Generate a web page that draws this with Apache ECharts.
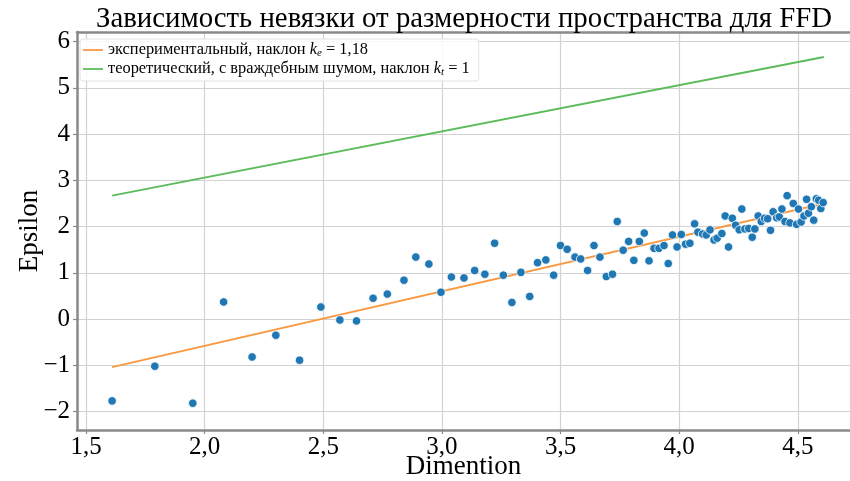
<!DOCTYPE html>
<html>
<head>
<meta charset="utf-8">
<script src="https://cdn.jsdelivr.net/npm/echarts@6/dist/echarts.min.js"></script>
<style>
  html, body { margin: 0; padding: 0; background: #fff; }
  #chart { width: 850px; height: 481px; }
</style>
</head>
<body>
<div id="chart"></div>
<script>
// Measured residual vs. space dimension
const dimX = [
  1.61, 1.79, 1.95, 2.08, 2.20, 2.30, 2.40, 2.49, 2.57, 2.64,
  2.71, 2.77, 2.84, 2.89, 2.945, 2.996, 3.04, 3.093, 3.138, 3.181,
  3.222, 3.259, 3.295, 3.333, 3.370, 3.403, 3.438, 3.471, 3.500, 3.528,
  3.561, 3.585, 3.614, 3.641, 3.666, 3.693, 3.719, 3.739, 3.764, 3.787,
  3.809, 3.832, 3.853, 3.873, 3.894, 3.915, 3.936, 3.954, 3.972, 3.991,
  4.009, 4.027, 4.045, 4.065, 4.079, 4.099, 4.114, 4.130, 4.147, 4.160,
  4.180, 4.194, 4.208, 4.224, 4.238, 4.253, 4.264, 4.277, 4.293, 4.308,
  4.319, 4.333, 4.346, 4.360, 4.373, 4.385, 4.396, 4.411, 4.422, 4.433,
  4.446, 4.455, 4.467, 4.481, 4.495, 4.503, 4.514, 4.526, 4.537, 4.545,
  4.557, 4.567, 4.578, 4.588, 4.597, 4.607
];
const epsY = [
  -1.77, -1.02, -1.82, 0.37, -0.82, -0.35, -0.89, 0.26, -0.02, -0.04,
  0.45, 0.54, 0.84, 1.34, 1.19, 0.58, 0.91, 0.89, 1.05, 0.97,
  1.64, 0.95, 0.36, 1.01, 0.49, 1.22, 1.28, 0.95, 1.59, 1.51,
  1.34, 1.30, 1.05, 1.59, 1.34, 0.92, 0.97, 2.11, 1.49, 1.68,
  1.27, 1.68, 1.86, 1.26, 1.53, 1.53, 1.59, 1.20, 1.82, 1.56,
  1.83, 1.62, 1.64, 2.06, 1.88, 1.84, 1.82, 1.93, 1.71, 1.75,
  1.85, 2.23, 1.56, 2.18, 2.03, 1.93, 2.38, 1.95, 1.96, 1.77,
  1.95, 2.23, 2.11, 2.18, 2.17, 1.92, 2.32, 2.19, 2.21, 2.38,
  2.11, 2.67, 2.08, 2.50, 2.05, 2.38, 2.10, 2.23, 2.59, 2.29,
  2.43, 2.14, 2.60, 2.57, 2.39, 2.52
];

// Fitted (experimental) and theoretical lines, end points only
const fitX = [1.61, 4.61];
const expY = [-1.04, 2.50];   // slope 1.18
const theoY = [2.67, 5.67];   // slope 1

const xRange = [1.462, 4.72];
const yRange = [-2.40, 6.21];

const SERIF = '"Liberation Serif", "Times New Roman", serif';
const NAME_EXP = 'экспериментальный';
const NAME_THEO = 'теоретический';

const pairs = (xs, ys) => xs.map((x, i) => [x, ys[i]]);
const fmtX = v => v.toFixed(1).replace('.', ',');
const fmtY = v => (v < 0 ? '\u2212' + (-v) : String(v));

const spine = { lineStyle: { color: '#8a8a8a', width: 2.5 } };
const gridLine = { show: true, lineStyle: { color: '#d2d2d2', width: 1.2 } };

const chart = echarts.init(document.getElementById('chart'));
chart.setOption({
  animation: false,
  backgroundColor: '#fff',
  title: {
    text: 'Зависимость невязки от размерности пространства для FFD',
    left: 91,
    top: 0,
    textStyle: { fontFamily: SERIF, fontSize: 28.8, fontWeight: 'normal', color: '#000' }
  },
  legend: {
    data: [NAME_EXP, NAME_THEO],
    orient: 'vertical',
    left: 80,
    top: 39,
    itemWidth: 20,
    itemHeight: 2,
    itemGap: 2,
    icon: 'rect',
    padding: [3, 9, 3, 3],
    backgroundColor: 'rgba(255,255,255,0.85)',
    borderColor: '#e2e2e2',
    borderWidth: 1,
    borderRadius: 3,
    formatter: name => name === NAME_EXP
      ? '{a|экспериментальный, наклон }{k|k}{s|e}{a| = 1,18}'
      : '{a|теоретический, с враждебным шумом, наклон }{k|k}{s|t}{a| = 1}',
    textStyle: {
      fontFamily: SERIF,
      fontSize: 16.4,
      color: '#000',
      rich: {
        a: { fontFamily: SERIF, fontSize: 16.4, lineHeight: 18 },
        k: { fontFamily: SERIF, fontSize: 16.4, fontStyle: 'italic', lineHeight: 18 },
        s: { fontFamily: SERIF, fontSize: 11, fontStyle: 'italic', lineHeight: 11, verticalAlign: 'bottom' }
      }
    }
  },
  grid: { left: 77, right: 0, top: 32, bottom: 51, containLabel: false, outerBoundsMode: 'none' },
  xAxis: [
    {
      type: 'value',
      min: xRange[0],
      max: xRange[1],
      splitNumber: 7,
      name: 'Dimention',
      nameLocation: 'middle',
      nameGap: 23,
      nameMoveOverlap: false,
      nameTextStyle: { fontFamily: SERIF, fontSize: 27, color: '#000' },
      axisLine: { show: true, onZero: false, ...spine },
      axisTick: { show: true, length: 4, lineStyle: { color: '#8a8a8a', width: 1.2 } },
      axisLabel: {
        fontFamily: SERIF, fontSize: 25, color: '#000', margin: 5,
        showMinLabel: false, showMaxLabel: false, formatter: fmtX
      },
      splitLine: gridLine
    },
    {
      type: 'value',
      position: 'top',
      min: xRange[0],
      max: xRange[1],
      axisLine: { show: true, onZero: false, ...spine },
      axisTick: { show: false },
      axisLabel: { show: false },
      splitLine: { show: false }
    }
  ],
  yAxis: {
    type: 'value',
    min: yRange[0],
    max: yRange[1],
    splitNumber: 8,
    name: 'Epsilon',
    nameLocation: 'middle',
    nameGap: 34,
    nameMoveOverlap: false,
    nameTextStyle: { fontFamily: SERIF, fontSize: 27, color: '#000' },
    axisLine: { show: true, onZero: false, ...spine },
    axisTick: { show: true, length: 4, lineStyle: { color: '#8a8a8a', width: 1.2 } },
    axisLabel: {
      fontFamily: SERIF, fontSize: 25, color: '#000', margin: 7,
      showMinLabel: false, showMaxLabel: false, formatter: fmtY
    },
    splitLine: gridLine
  },
  series: [
    {
      name: NAME_EXP,
      type: 'line',
      data: pairs(fitX, expY),
      symbol: 'none',
      itemStyle: { color: '#fba352' },
      lineStyle: { color: '#f99a42', width: 2 },
      z: 3
    },
    {
      name: NAME_THEO,
      type: 'line',
      data: pairs(fitX, theoY),
      symbol: 'none',
      itemStyle: { color: '#6cc46c' },
      lineStyle: { color: '#5cbc5c', width: 2 },
      z: 3
    },
    {
      name: 'points',
      type: 'scatter',
      data: pairs(dimX, epsY),
      symbolSize: 8.5,
      itemStyle: { color: '#1f77b4', borderColor: '#ffffff', borderWidth: 0.8, opacity: 1 },
      z: 4
    }
  ]
});
</script>
</body>
</html>
